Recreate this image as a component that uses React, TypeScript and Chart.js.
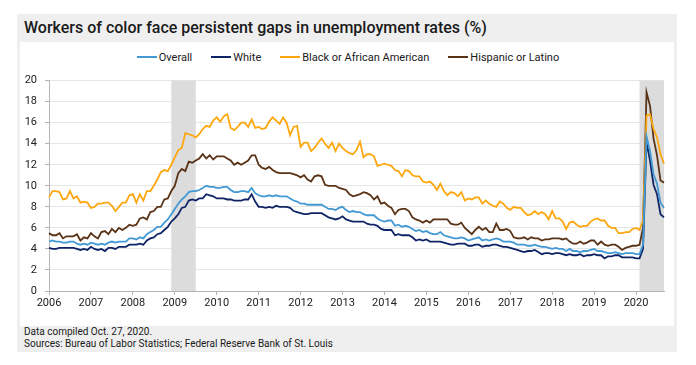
import React, { useEffect, useRef } from "react";
import { Chart, registerables } from "chart.js";

Chart.register(...registerables);

const years = ["2006", "2007", "2008", "2009", "2010", "2011", "2012", "2013", "2014", "2015", "2016", "2017", "2018", "2019", "2020"];
const monthsIn2020 = 9;

const seriesNames = ["Overall", "White", "Black or African American", "Hispanic or Latino"];
const seriesColors = ["#4299d4", "#0f2466", "#fda70f", "#5a3316"];

const recessions: [string, string][] = [["2008-12", "2009-07"], ["2020-02", "2020-09"]];

const overall = [
  4.7, 4.8, 4.7, 4.7, 4.6, 4.6, 4.7, 4.7, 4.5, 4.4, 4.5, 4.4,
  4.6, 4.5, 4.4, 4.5, 4.4, 4.6, 4.7, 4.6, 4.7, 4.7, 4.7, 5.0,
  5.0, 4.9, 5.1, 5.0, 5.4, 5.6, 5.8, 6.1, 6.1, 6.5, 6.8, 7.3,
  7.8, 8.3, 8.7, 9.0, 9.4, 9.5, 9.5, 9.6, 9.8, 10.0, 9.9, 9.9,
  9.8, 9.8, 9.9, 9.9, 9.6, 9.4, 9.4, 9.5, 9.5, 9.4, 9.8, 9.3,
  9.1, 9.0, 9.0, 9.1, 9.0, 9.1, 9.0, 9.0, 9.0, 8.8, 8.6, 8.5,
  8.3, 8.3, 8.2, 8.2, 8.2, 8.2, 8.2, 8.0, 7.8, 7.8, 7.7, 7.9,
  8.0, 7.7, 7.5, 7.6, 7.5, 7.5, 7.3, 7.2, 7.2, 7.2, 6.9, 6.7,
  6.6, 6.7, 6.7, 6.2, 6.3, 6.1, 6.2, 6.1, 5.9, 5.7, 5.8, 5.6,
  5.7, 5.5, 5.4, 5.4, 5.6, 5.3, 5.2, 5.1, 5.0, 5.0, 5.1, 5.0,
  4.8, 4.9, 5.0, 5.1, 4.8, 4.9, 4.8, 4.9, 5.0, 4.9, 4.7, 4.7,
  4.7, 4.6, 4.4, 4.4, 4.4, 4.3, 4.3, 4.4, 4.3, 4.2, 4.2, 4.1,
  4.0, 4.1, 4.0, 4.0, 3.8, 4.0, 3.8, 3.8, 3.7, 3.8, 3.8, 3.9,
  4.0, 3.8, 3.8, 3.7, 3.6, 3.6, 3.7, 3.6, 3.5, 3.6, 3.6, 3.6,
  3.5, 3.5, 4.4, 14.7, 13.3, 11.1, 10.2, 8.4, 7.9,
];

const white = [
  4.1, 4.0, 4.0, 4.1, 4.1, 4.1, 4.1, 4.1, 4.0, 3.9, 4.0, 3.9,
  4.2, 4.0, 3.9, 4.0, 3.8, 4.1, 4.1, 4.0, 4.2, 4.2, 4.2, 4.4,
  4.4, 4.4, 4.5, 4.4, 4.8, 5.0, 5.1, 5.4, 5.5, 5.8, 6.1, 6.6,
  6.9, 7.3, 7.9, 8.0, 8.6, 8.7, 8.6, 8.8, 8.8, 9.2, 9.1, 9.0,
  8.8, 8.8, 8.8, 8.7, 8.7, 8.6, 8.6, 8.6, 8.7, 8.7, 9.2, 8.5,
  8.0, 8.0, 7.9, 8.0, 7.9, 8.1, 8.0, 8.0, 8.0, 7.9, 7.6, 7.5,
  7.4, 7.3, 7.3, 7.4, 7.4, 7.4, 7.4, 7.2, 7.0, 6.9, 6.8, 6.9,
  7.1, 6.8, 6.7, 6.6, 6.6, 6.6, 6.6, 6.4, 6.3, 6.3, 6.2, 5.9,
  5.8, 5.8, 5.8, 5.3, 5.4, 5.3, 5.3, 5.3, 5.1, 4.8, 4.9, 4.8,
  4.9, 4.7, 4.7, 4.7, 4.7, 4.6, 4.5, 4.4, 4.4, 4.5, 4.5, 4.5,
  4.3, 4.3, 4.4, 4.4, 4.2, 4.3, 4.3, 4.4, 4.4, 4.3, 4.2, 4.2,
  4.1, 4.0, 3.9, 3.8, 3.7, 3.8, 3.8, 3.9, 3.7, 3.5, 3.6, 3.6,
  3.5, 3.6, 3.6, 3.5, 3.4, 3.5, 3.4, 3.4, 3.5, 3.3, 3.4, 3.4,
  3.5, 3.4, 3.4, 3.1, 3.3, 3.3, 3.4, 3.4, 3.2, 3.2, 3.2, 3.2,
  3.1, 3.1, 4.0, 14.2, 12.4, 10.1, 9.2, 7.3, 7.0,
];

const black = [
  8.9, 9.5, 9.5, 9.4, 8.7, 8.8, 9.5, 8.8, 9.0, 8.4, 8.5, 8.4,
  7.9, 8.0, 8.3, 8.3, 8.4, 8.4, 8.1, 7.6, 8.0, 8.4, 8.4, 9.1,
  9.2, 8.4, 9.2, 8.6, 9.5, 9.5, 10.0, 10.6, 11.3, 11.5, 11.4, 12.0,
  12.7, 13.4, 13.6, 15.0, 14.9, 14.8, 14.6, 14.9, 15.4, 15.7, 15.6, 16.2,
  16.5, 16.1, 16.6, 16.8, 15.5, 15.3, 15.6, 16.0, 16.0, 15.6, 16.3, 15.5,
  15.6, 15.4, 15.5, 16.1, 16.5, 16.2, 15.9, 16.5, 16.0, 14.8, 15.6, 15.7,
  13.7, 14.1, 14.1, 13.3, 13.6, 14.1, 14.5, 14.0, 13.6, 14.1, 13.3, 14.0,
  13.6, 13.3, 13.1, 13.0, 13.4, 14.2, 12.7, 13.0, 13.0, 12.8, 11.9, 12.0,
  12.1, 12.0, 11.9, 11.5, 11.4, 10.9, 11.5, 11.4, 11.0, 10.9, 10.9, 10.4,
  10.3, 10.4, 10.1, 9.6, 10.2, 9.5, 9.1, 9.4, 9.3, 9.0, 9.4, 8.6,
  8.8, 8.7, 8.9, 8.9, 8.3, 8.6, 8.3, 8.1, 8.0, 8.5, 8.3, 7.9,
  7.7, 8.0, 7.9, 7.9, 7.5, 7.2, 7.3, 7.6, 7.3, 7.5, 7.3, 6.8,
  7.6, 6.9, 6.9, 6.6, 5.9, 6.5, 6.6, 6.3, 6.1, 6.2, 6.2, 6.6,
  6.8, 6.9, 6.7, 6.7, 6.2, 6.0, 6.0, 5.5, 5.5, 5.6, 5.6, 5.9,
  6.0, 5.8, 6.7, 16.7, 16.8, 15.4, 14.6, 13.0, 12.1,
];

const hispanic = [
  5.5, 5.3, 5.3, 5.5, 5.0, 5.2, 5.2, 5.2, 5.4, 4.8, 5.1, 5.0,
  5.5, 5.2, 5.0, 5.6, 5.7, 5.4, 5.9, 5.6, 6.0, 5.8, 6.0, 6.3,
  6.2, 6.3, 6.9, 7.0, 6.8, 7.5, 7.6, 8.0, 8.0, 8.7, 8.8, 9.5,
  10.0, 11.2, 11.6, 11.4, 12.3, 12.2, 12.4, 12.6, 13.0, 12.6, 12.9, 12.5,
  12.8, 12.8, 12.8, 12.6, 12.4, 12.0, 12.2, 12.0, 12.2, 12.4, 12.9, 12.9,
  12.0, 11.7, 11.6, 11.8, 11.5, 11.3, 11.2, 11.2, 11.2, 11.2, 11.1, 11.0,
  10.8, 11.0, 10.6, 10.4, 10.9, 11.0, 10.9, 10.1, 10.0, 10.0, 10.0, 9.8,
  9.7, 9.6, 9.2, 9.0, 9.1, 9.2, 9.4, 9.3, 9.1, 8.7, 9.0, 8.3,
  8.4, 8.1, 7.9, 7.3, 7.7, 7.8, 7.8, 7.6, 7.0, 6.8, 6.7, 6.5,
  6.7, 6.5, 6.8, 6.8, 6.8, 6.8, 6.8, 6.4, 6.3, 6.3, 6.5, 6.0,
  5.7, 5.4, 5.8, 6.1, 5.8, 6.0, 5.6, 5.6, 6.4, 5.8, 5.8, 5.9,
  5.7, 5.1, 5.0, 5.0, 5.1, 4.9, 5.1, 5.0, 5.0, 4.8, 4.9, 4.9,
  5.0, 5.0, 5.0, 4.9, 5.0, 4.7, 4.5, 4.5, 4.7, 4.5, 4.6, 4.8,
  4.8, 4.4, 4.7, 4.4, 4.3, 4.4, 4.4, 4.2, 3.9, 4.1, 4.2, 4.3,
  4.3, 4.4, 6.0, 18.9, 17.6, 14.5, 12.9, 10.5, 10.3,
];

const seriesValues = [overall, white, black, hispanic];

const monthLabels: string[] = [];
years.forEach((y, i) => {
  const n = i === years.length - 1 ? monthsIn2020 : 12;
  for (let m = 1; m <= n; m++) monthLabels.push(`${y}-${String(m).padStart(2, "0")}`);
});

const FONT = "Roboto, 'Noto Sans', sans-serif";
const AXIS = "#b5b5b5";

const shadePlugin = {
  id: "recessionShade",
  beforeDatasetsDraw(chart: any) {
    const { ctx, chartArea, scales } = chart;
    const x = scales.x;
    ctx.save();
    ctx.fillStyle = "#dcdcdc";
    recessions.forEach(([s, e]) => {
      const x0 = x.getPixelForValue(monthLabels.indexOf(s));
      const x1 = x.getPixelForValue(monthLabels.indexOf(e));
      ctx.fillRect(x0, chartArea.top, x1 - x0, chartArea.bottom - chartArea.top);
    });
    ctx.restore();
  },
};

function LineChart() {
  const ref = useRef<HTMLCanvasElement>(null);
  useEffect(() => {
    if (!ref.current) return;
    const chart = new Chart(ref.current, {
      type: "line",
      data: {
        labels: monthLabels,
        datasets: seriesNames.map((name, i) => ({
          label: name,
          data: seriesValues[i],
          borderColor: seriesColors[i],
          backgroundColor: seriesColors[i],
          borderWidth: 1.8,
          pointRadius: 0,
          tension: 0,
        })),
      },
      options: {
        animation: false,
        responsive: false,
        devicePixelRatio: 1,
        layout: { padding: { top: 13, right: 10, left: 0, bottom: 0 } },
        plugins: { legend: { display: false }, tooltip: { enabled: false } },
        scales: {
          x: {
            type: "category",
            grid: {
              drawOnChartArea: false,
              drawTicks: true,
              tickLength: 4,
              tickColor: (c: any) => (c.index % 12 === 0 ? AXIS : "rgba(0,0,0,0)"),
            },
            border: { color: AXIS },
            ticks: {
              autoSkip: false,
              maxRotation: 0,
              minRotation: 0,
              padding: 2,
              color: "#222",
              font: { size: 11, family: FONT },
              callback: (_v: any, i: number) => (i % 12 === 0 ? years[i / 12] : ""),
            },
            afterFit: (s: any) => {
              s.height = 35;
            },
          },
          y: {
            min: 0,
            max: 20,
            grid: { color: "#e6e6e6", tickLength: 4, tickColor: AXIS },
            border: { color: AXIS },
            ticks: { stepSize: 2, padding: 8, color: "#222", font: { size: 11, family: FONT } },
            afterFit: (s: any) => {
              s.width = 29;
            },
          },
        },
      },
      plugins: [shadePlugin],
    });
    return () => chart.destroy();
  }, []);
  return <canvas ref={ref} width={654} height={260} style={{ display: "block" }} />;
}

export default function App() {
  return (
    <div style={{ position: "fixed", left: 0, top: 0, width: 696, height: 365, background: "#fff", fontFamily: FONT }}>
      <div style={{ position: "absolute", left: 17, top: 14, width: 660, height: 338, background: "#efefef" }} />
      <div
        style={{
          position: "absolute",
          left: 24,
          top: 14,
          height: 28,
          lineHeight: "28px",
          fontSize: 16,
          fontWeight: 500,
          color: "#1a1a1a",
          whiteSpace: "nowrap",
        }}
      >
        Workers of color face persistent gaps in unemployment rates (%)
      </div>
      <div style={{ position: "absolute", left: 20, top: 42, width: 654, height: 284, background: "#fff" }} />
      <div
        style={{
          position: "absolute",
          left: 20,
          top: 50,
          width: 656,
          height: 14,
          display: "flex",
          justifyContent: "center",
          alignItems: "center",
          fontSize: 11,
          color: "#1a1a1a",
        }}
      >
        {seriesNames.map((n, i) => (
          <div key={n} style={{ display: "flex", alignItems: "center", marginLeft: i === 0 ? 0 : 19 }}>
            <div style={{ width: 20, height: 2, background: seriesColors[i], marginRight: 2 }} />
            <span style={{ whiteSpace: "nowrap" }}>{n}</span>
          </div>
        ))}
      </div>
      <div style={{ position: "absolute", left: 20, top: 66 }}>
        <LineChart />
      </div>
      <div
        style={{
          position: "absolute",
          left: 24,
          top: 326,
          fontSize: 10,
          lineHeight: "12px",
          color: "#1a1a1a",
          whiteSpace: "nowrap",
        }}
      >
        <div>Data compiled Oct. 27, 2020.</div>
        <div>Sources: Bureau of Labor Statistics; Federal Reserve Bank of St. Louis</div>
      </div>
    </div>
  );
}
